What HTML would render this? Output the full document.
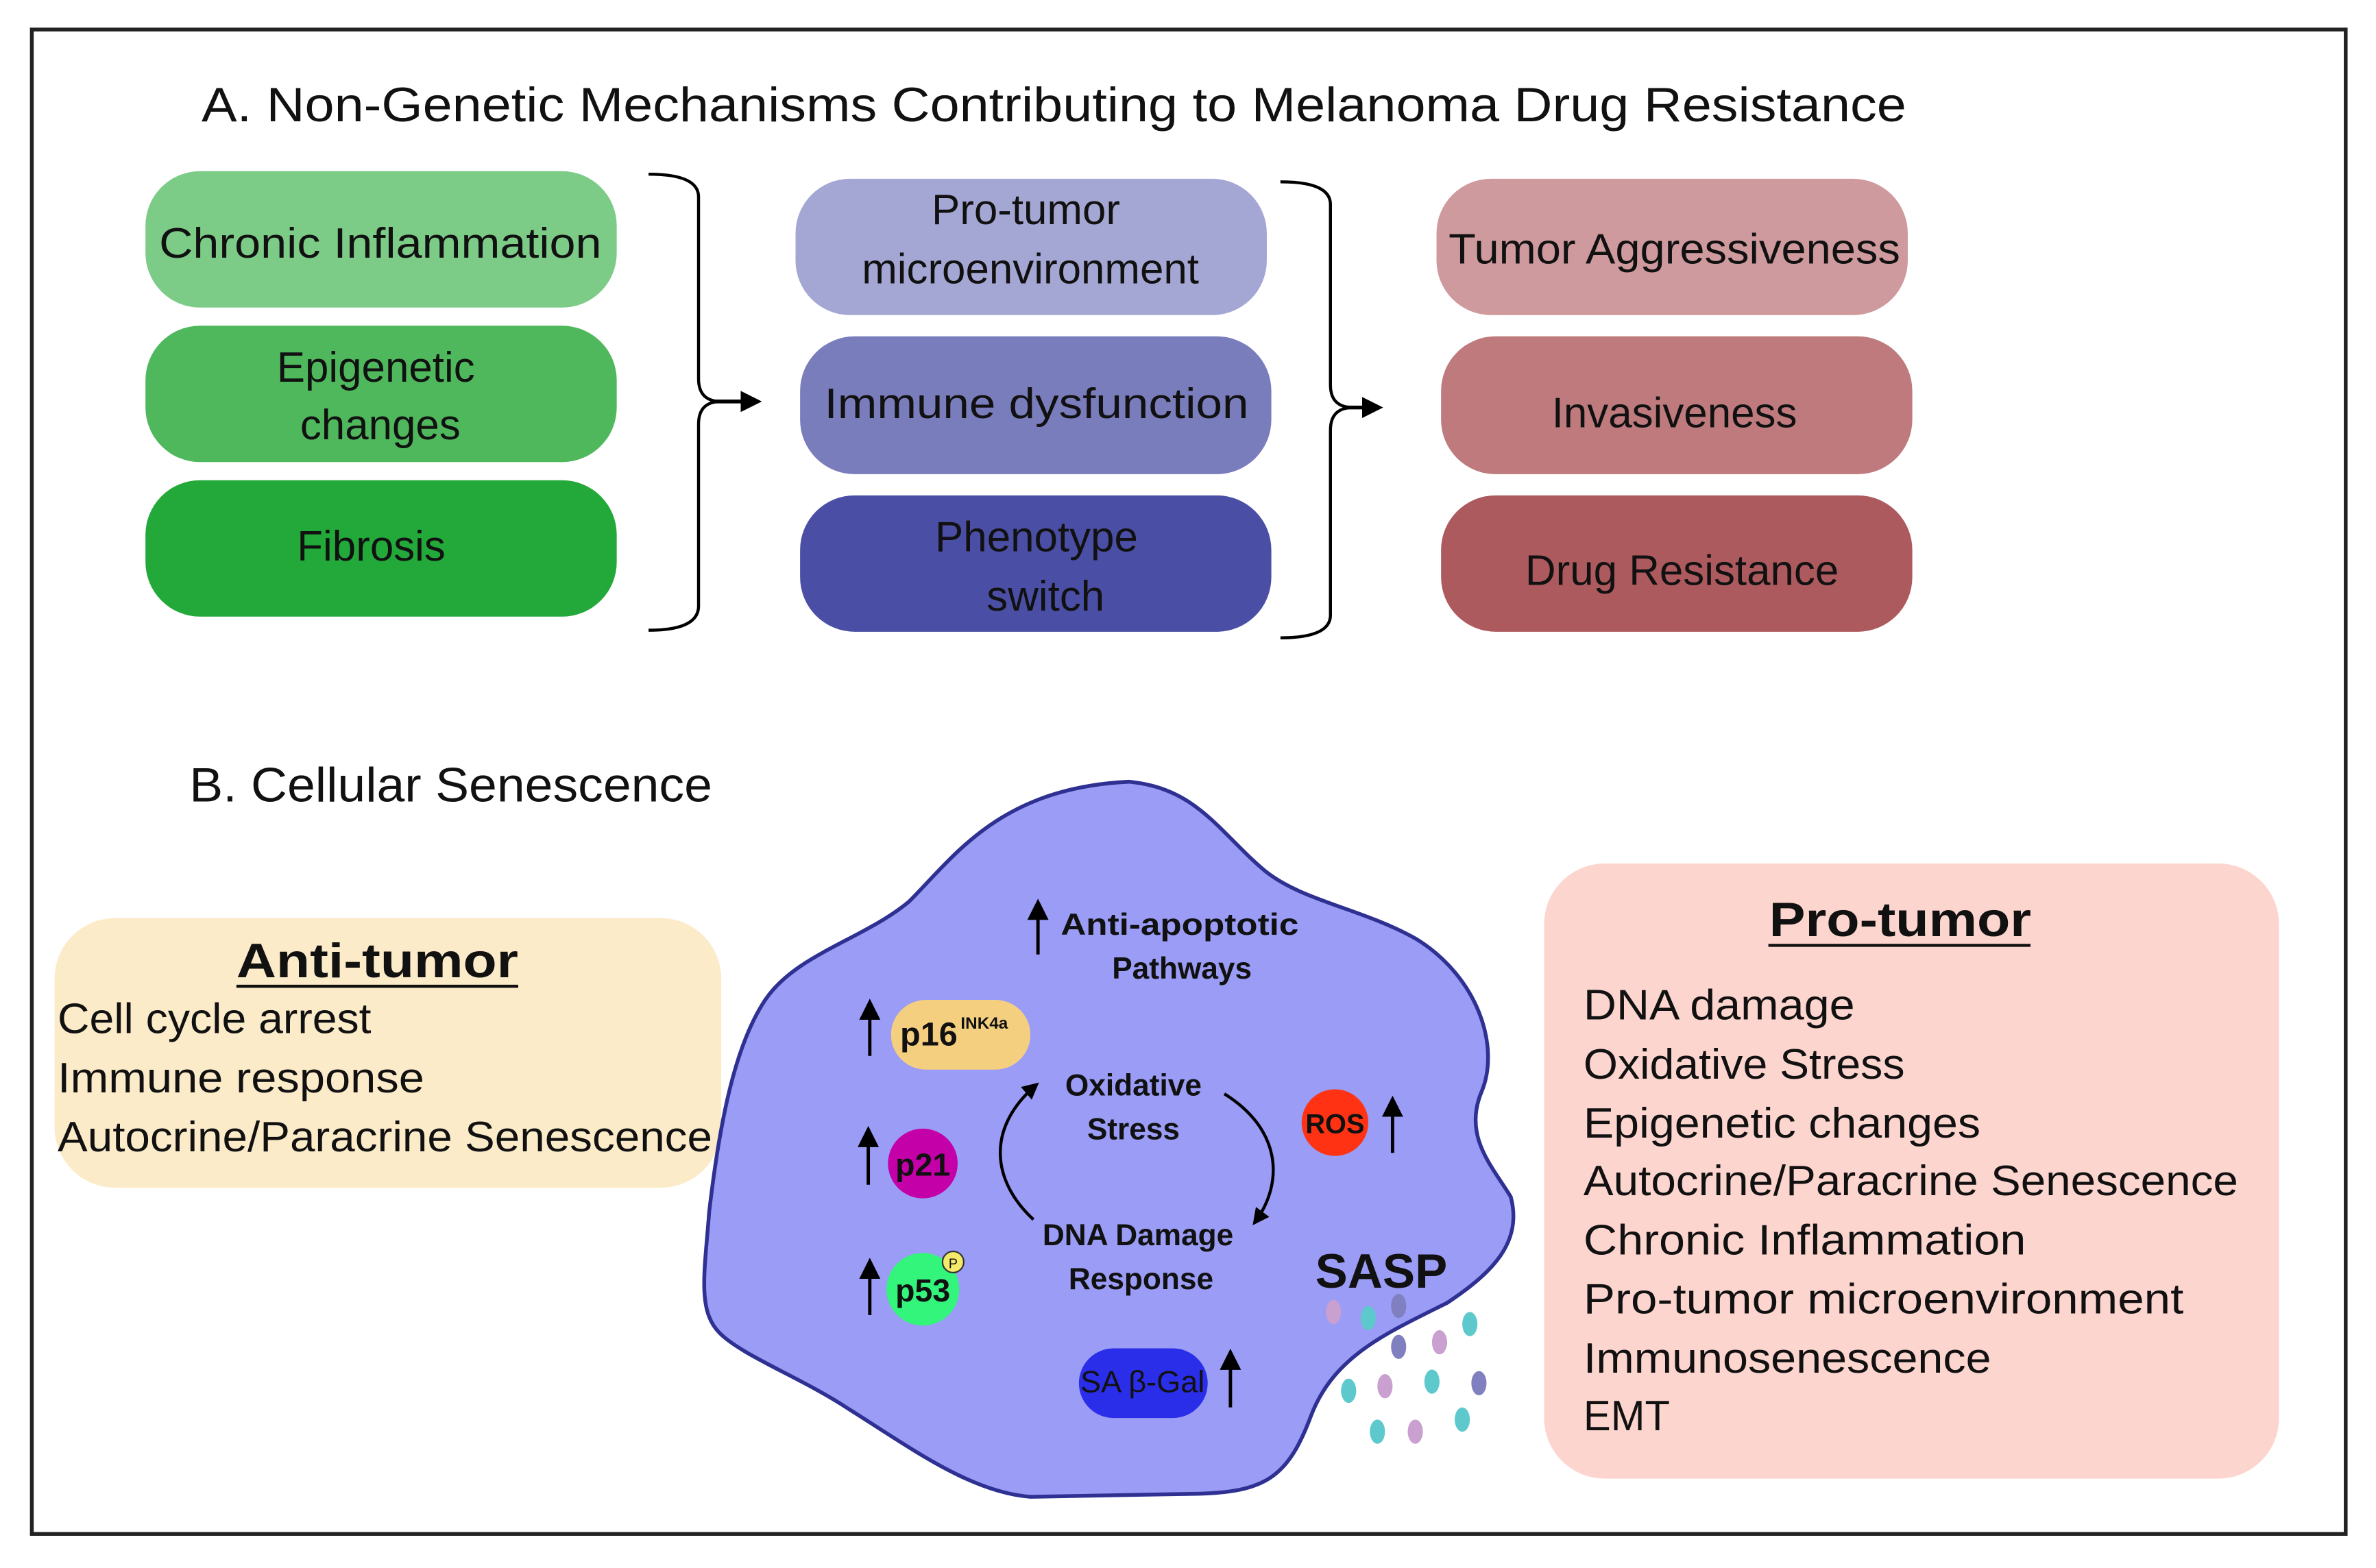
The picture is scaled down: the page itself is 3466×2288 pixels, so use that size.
<!DOCTYPE html>
<html><head><meta charset="utf-8"><style>
html,body{margin:0;padding:0;background:#fff;}
svg{display:block;}
text{font-family:"Liberation Sans",sans-serif;fill:#111;}
.b{font-weight:bold;}
</style></head><body>
<svg width="3466" height="2288" viewBox="0 0 1568 1035" preserveAspectRatio="none" xmlns="http://www.w3.org/2000/svg">
<defs>
<marker id="ah" viewBox="0 0 10 10" refX="8" refY="5" markerUnits="userSpaceOnUse" markerWidth="14" markerHeight="16" orient="auto"><path d="M0,0 L10,5 L0,10 z" fill="#000"/></marker>
<marker id="ah2" viewBox="0 0 10 10" refX="8" refY="5" markerUnits="userSpaceOnUse" markerWidth="11" markerHeight="12" orient="auto"><path d="M0,0 L10,5 L0,10 z" fill="#000"/></marker>
</defs>
<rect x="0" y="0" width="1568" height="1035" fill="#fff"/>
<rect x="21" y="19.5" width="1527" height="993" fill="none" stroke="#222" stroke-width="2.5"/>
<text x="133" y="80" font-size="32" textLength="1125" lengthAdjust="spacingAndGlyphs" fill="#2a2a3a">A. Non-Genetic Mechanisms Contributing to Melanoma Drug Resistance</text>

<rect x="96" y="113" width="311" height="90" rx="36" fill="#7ccb87"/>
<rect x="96" y="215" width="311" height="90" rx="36" fill="#4fb85c"/>
<rect x="96" y="317" width="311" height="90" rx="36" fill="#23a83a"/>
<text x="251" y="170" font-size="28" text-anchor="middle" textLength="292" lengthAdjust="spacingAndGlyphs">Chronic Inflammation</text>
<text x="248" y="252" font-size="28" text-anchor="middle">Epigenetic</text>
<text x="251" y="290" font-size="28" text-anchor="middle">changes</text>
<text x="245" y="370" font-size="28" text-anchor="middle">Fibrosis</text>

<path d="M428,115 Q461,115 461,130 L461,250 Q461,265 476,265 Q461,265 461,280 L461,400 Q461,416 428,416" fill="none" stroke="#000" stroke-width="2"/>
<line x1="470" y1="265" x2="500" y2="265" stroke="#000" stroke-width="2.5" marker-end="url(#ah)"/>

<rect x="525" y="118" width="311" height="90" rx="36" fill="#a4a7d4"/>
<rect x="528" y="222" width="311" height="91" rx="36" fill="#7a7dbc"/>
<rect x="528" y="327" width="311" height="90" rx="36" fill="#4a4fa5"/>
<text x="677" y="148" font-size="28" text-anchor="middle">Pro-tumor</text>
<text x="680" y="187" font-size="28" text-anchor="middle">microenvironment</text>
<text x="684" y="276" font-size="28" text-anchor="middle" textLength="280" lengthAdjust="spacingAndGlyphs">Immune dysfunction</text>
<text x="684" y="364" font-size="28" text-anchor="middle">Phenotype</text>
<text x="690" y="403" font-size="28" text-anchor="middle">switch</text>

<path d="M845,120 Q878,120 878,135 L878,254 Q878,269 893,269 Q878,269 878,284 L878,406 Q878,421 845,421" fill="none" stroke="#000" stroke-width="2"/>
<line x1="886" y1="269" x2="910" y2="269" stroke="#000" stroke-width="2.5" marker-end="url(#ah)"/>

<rect x="948" y="118" width="311" height="90" rx="36" fill="#cf9a9e"/>
<rect x="951" y="222" width="311" height="91" rx="36" fill="#be7a7c"/>
<rect x="951" y="327" width="311" height="90" rx="36" fill="#ad5a5e"/>
<text x="1105" y="174" font-size="28" text-anchor="middle" textLength="298" lengthAdjust="spacingAndGlyphs">Tumor Aggressiveness</text>
<text x="1105" y="282" font-size="28" text-anchor="middle">Invasiveness</text>
<text x="1110" y="386" font-size="28" text-anchor="middle">Drug Resistance</text>

<text x="125" y="529" font-size="32" fill="#2a2a3a" textLength="345" lengthAdjust="spacingAndGlyphs">B. Cellular Senescence</text>

<rect x="36" y="606" width="440" height="178" rx="40" fill="#fcebc9"/>
<text x="249" y="645" font-size="32" class="b" text-anchor="middle" textLength="186" lengthAdjust="spacingAndGlyphs">Anti-tumor</text>
<line x1="156" y1="651" x2="342" y2="651" stroke="#111" stroke-width="2"/>
<text x="38" y="682" font-size="28" textLength="207" lengthAdjust="spacingAndGlyphs">Cell cycle arrest</text>
<text x="38" y="721" font-size="28" textLength="242" lengthAdjust="spacingAndGlyphs">Immune response</text>
<text x="38" y="760" font-size="28" textLength="432" lengthAdjust="spacingAndGlyphs">Autocrine/Paracrine Senescence</text>

<rect x="1019" y="570" width="485" height="406" rx="40" fill="#fdd5cf"/>
<text x="1254" y="618" font-size="32" class="b" text-anchor="middle" textLength="173" lengthAdjust="spacingAndGlyphs">Pro-tumor</text>
<line x1="1167" y1="624" x2="1340" y2="624" stroke="#111" stroke-width="2"/>
<g font-size="28">
<text x="1045" y="673" textLength="179" lengthAdjust="spacingAndGlyphs">DNA damage</text>
<text x="1045" y="712" textLength="212" lengthAdjust="spacingAndGlyphs">Oxidative Stress</text>
<text x="1045" y="751" textLength="262" lengthAdjust="spacingAndGlyphs">Epigenetic changes</text>
<text x="1045" y="789" textLength="432" lengthAdjust="spacingAndGlyphs">Autocrine/Paracrine Senescence</text>
<text x="1045" y="828" textLength="292" lengthAdjust="spacingAndGlyphs">Chronic Inflammation</text>
<text x="1045" y="867" textLength="396" lengthAdjust="spacingAndGlyphs">Pro-tumor microenvironment</text>
<text x="1045" y="906" textLength="269" lengthAdjust="spacingAndGlyphs">Immunosenescence</text>
<text x="1045" y="944" textLength="57" lengthAdjust="spacingAndGlyphs">EMT</text>
</g>

<path d="M745,516 C790,520 805,550 835,575 C860,595 900,600 935,620 C975,645 990,690 978,720 C965,750 985,770 997,790 C1005,820 985,840 955,860 C915,880 880,895 865,935 C850,975 835,985 790,986 L680,988 C640,985 600,955 560,930 C530,910 490,895 475,880 C460,865 465,840 468,800 C475,740 485,690 505,660 C525,630 570,620 600,595 C630,565 660,520 745,516 Z" fill="#9a9cf5" stroke="#2e3192" stroke-width="2.5"/>

<g stroke="#000" stroke-width="2.2" marker-end="url(#ah)">
<line x1="685" y1="630" x2="685" y2="596"/>
<line x1="574" y1="697" x2="574" y2="662"/>
<line x1="573" y1="782" x2="573" y2="746"/>
<line x1="574" y1="868" x2="574" y2="833"/>
<line x1="919" y1="761" x2="919" y2="726"/>
<line x1="812" y1="929" x2="812" y2="893"/>
</g>
<text x="700" y="617" font-size="20" class="b" textLength="157" lengthAdjust="spacingAndGlyphs">Anti-apoptotic</text>
<text x="780" y="646" font-size="20" class="b" text-anchor="middle">Pathways</text>

<rect x="588" y="660" width="92" height="46" rx="23" fill="#f5cf80"/>
<text x="594" y="690" font-size="22" class="b">p16</text>
<text x="634" y="679" font-size="11" class="b">INK4a</text>

<circle cx="609" cy="768" r="23" fill="#c400a8"/>
<text x="609" y="776" font-size="21" class="b" text-anchor="middle">p21</text>
<circle cx="609" cy="851" r="24" fill="#33f57c"/>
<text x="609" y="859" font-size="21" class="b" text-anchor="middle">p53</text>
<circle cx="629" cy="833" r="7" fill="#f5e96a" stroke="#333" stroke-width="1"/>
<text x="629" y="837" font-size="9" text-anchor="middle">P</text>

<circle cx="881" cy="741" r="22" fill="#ff3314"/>
<text x="881" y="748" font-size="18" class="b" text-anchor="middle">ROS</text>

<text x="748" y="723" font-size="20" class="b" text-anchor="middle">Oxidative</text>
<text x="748" y="752" font-size="20" class="b" text-anchor="middle">Stress</text>
<text x="751" y="822" font-size="20" class="b" text-anchor="middle">DNA Damage</text>
<text x="753" y="851" font-size="20" class="b" text-anchor="middle">Response</text>
<path d="M682,805 C655,780 650,745 684,716" fill="none" stroke="#000" stroke-width="2" marker-end="url(#ah2)"/>
<path d="M808,722 C845,745 848,780 828,807" fill="none" stroke="#000" stroke-width="2" marker-end="url(#ah2)"/>

<text x="868" y="850" font-size="32" class="b">SASP</text>

<rect x="712" y="890" width="85" height="46" rx="23" fill="#2a2ee8"/>
<text x="754" y="919" font-size="20" text-anchor="middle" textLength="82" lengthAdjust="spacingAndGlyphs">SA β-Gal</text>

<g>
<ellipse cx="880" cy="866" rx="5" ry="8" fill="#c9a0d0"/>
<ellipse cx="903" cy="870" rx="5" ry="8" fill="#5ec9cc"/>
<ellipse cx="923" cy="862" rx="5" ry="8" fill="#8080c0"/>
<ellipse cx="970" cy="874" rx="5" ry="8" fill="#5ec9cc"/>
<ellipse cx="923" cy="889" rx="5" ry="8" fill="#8080c0"/>
<ellipse cx="950" cy="886" rx="5" ry="8" fill="#c9a0d0"/>
<ellipse cx="890" cy="918" rx="5" ry="8" fill="#5ec9cc"/>
<ellipse cx="914" cy="915" rx="5" ry="8" fill="#c9a0d0"/>
<ellipse cx="945" cy="912" rx="5" ry="8" fill="#5ec9cc"/>
<ellipse cx="976" cy="913" rx="5" ry="8" fill="#8080c0"/>
<ellipse cx="909" cy="945" rx="5" ry="8" fill="#5ec9cc"/>
<ellipse cx="934" cy="945" rx="5" ry="8" fill="#c9a0d0"/>
<ellipse cx="965" cy="937" rx="5" ry="8" fill="#5ec9cc"/>
</g>
</svg>
</body></html>
